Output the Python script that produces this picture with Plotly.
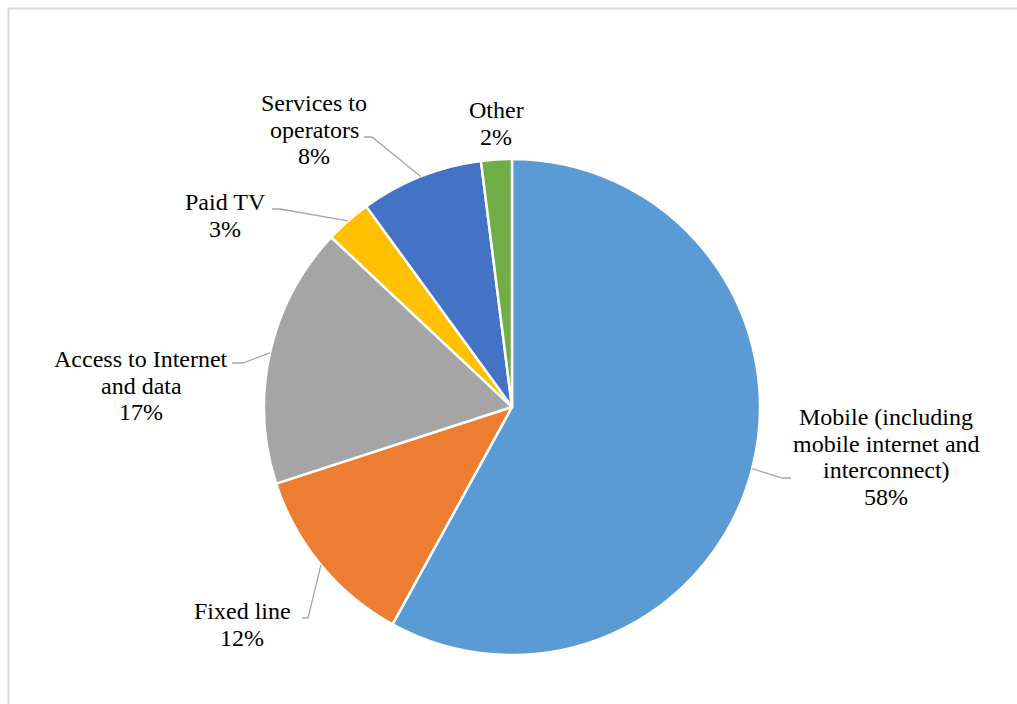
import math
import plotly.graph_objects as go

W, H = 1017, 704

# ---- data ----
categories = ["Mobile (including|mobile internet and|interconnect)", "Fixed line",
              "Access to Internet|and data", "Paid TV", "Services to|operators", "Other"]
values = [58, 12, 17, 3, 8, 2]
colors = ["#5B9BD5", "#ED7D31", "#A5A5A5", "#FFC000", "#4472C4", "#70AD47"]

# ---- layout (pixel positions) ----
cx, cy, R = 512, 407, 248
LINE_STEP = 26.7
label_pos = [(886, 417), (242, 611), (141, 359), (225, 202), (314, 103), (496, 110)]
elbow_pos = [(782, 478), (308, 618), (243, 363), (280, 209), (372, 137), None]
end_pos = [(791, 478), (302, 618), (232, 363), (272, 209), (364, 137), None]

FONT = "Liberation Serif"


def px(x):
    return x / W


def py(y):
    return 1 - y / H


fig = go.Figure(go.Pie(
    labels=[c.replace("|", " ") for c in categories],
    values=values,
    sort=False,
    direction="clockwise",
    rotation=0,
    marker=dict(colors=colors, line=dict(color="white", width=2.5)),
    textinfo="none",
    hoverinfo="label+percent",
    domain=dict(x=[px(cx - R), px(cx + R)], y=[py(cy + R), py(cy - R)]),
    showlegend=False,
))

total = sum(values)
cum = 0
annotations = []
shapes = [dict(type="rect", xref="paper", yref="paper",
               x0=px(8.5), y0=py(720), x1=px(1030), y1=py(8.5),
               line=dict(color="#D9D9D9", width=2), fillcolor="rgba(0,0,0,0)")]
for i, (cat, v) in enumerate(zip(categories, values)):
    mid = (cum + v / 2) / total * 2 * math.pi
    cum += v
    pct = round(v / total * 100)
    lines = cat.split("|") + [f"{pct}%"]
    lx, ly = label_pos[i]
    for k, line in enumerate(lines):
        annotations.append(dict(x=px(lx), y=py(ly + k * LINE_STEP), xref="paper", yref="paper",
                                text=line, showarrow=False,
                                font=dict(family=FONT, size=24, color="black"),
                                align="center", xanchor="center", yanchor="middle"))
    if elbow_pos[i] is not None:
        sx = cx + R * math.sin(mid)
        sy = cy - R * math.cos(mid)
        ex, ey = elbow_pos[i]
        tx, ty = end_pos[i]
        shapes.append(dict(type="path", xref="paper", yref="paper",
                           path=f"M {px(sx)},{py(sy)} L {px(ex)},{py(ey)} L {px(tx)},{py(ty)}",
                           line=dict(color="#A6A6A6", width=1.3)))

fig.update_layout(width=W, height=H, margin=dict(l=0, r=0, t=0, b=0),
                  paper_bgcolor="white", plot_bgcolor="white",
                  font=dict(family=FONT),
                  annotations=annotations, shapes=shapes)
fig.write_html("out.html")
